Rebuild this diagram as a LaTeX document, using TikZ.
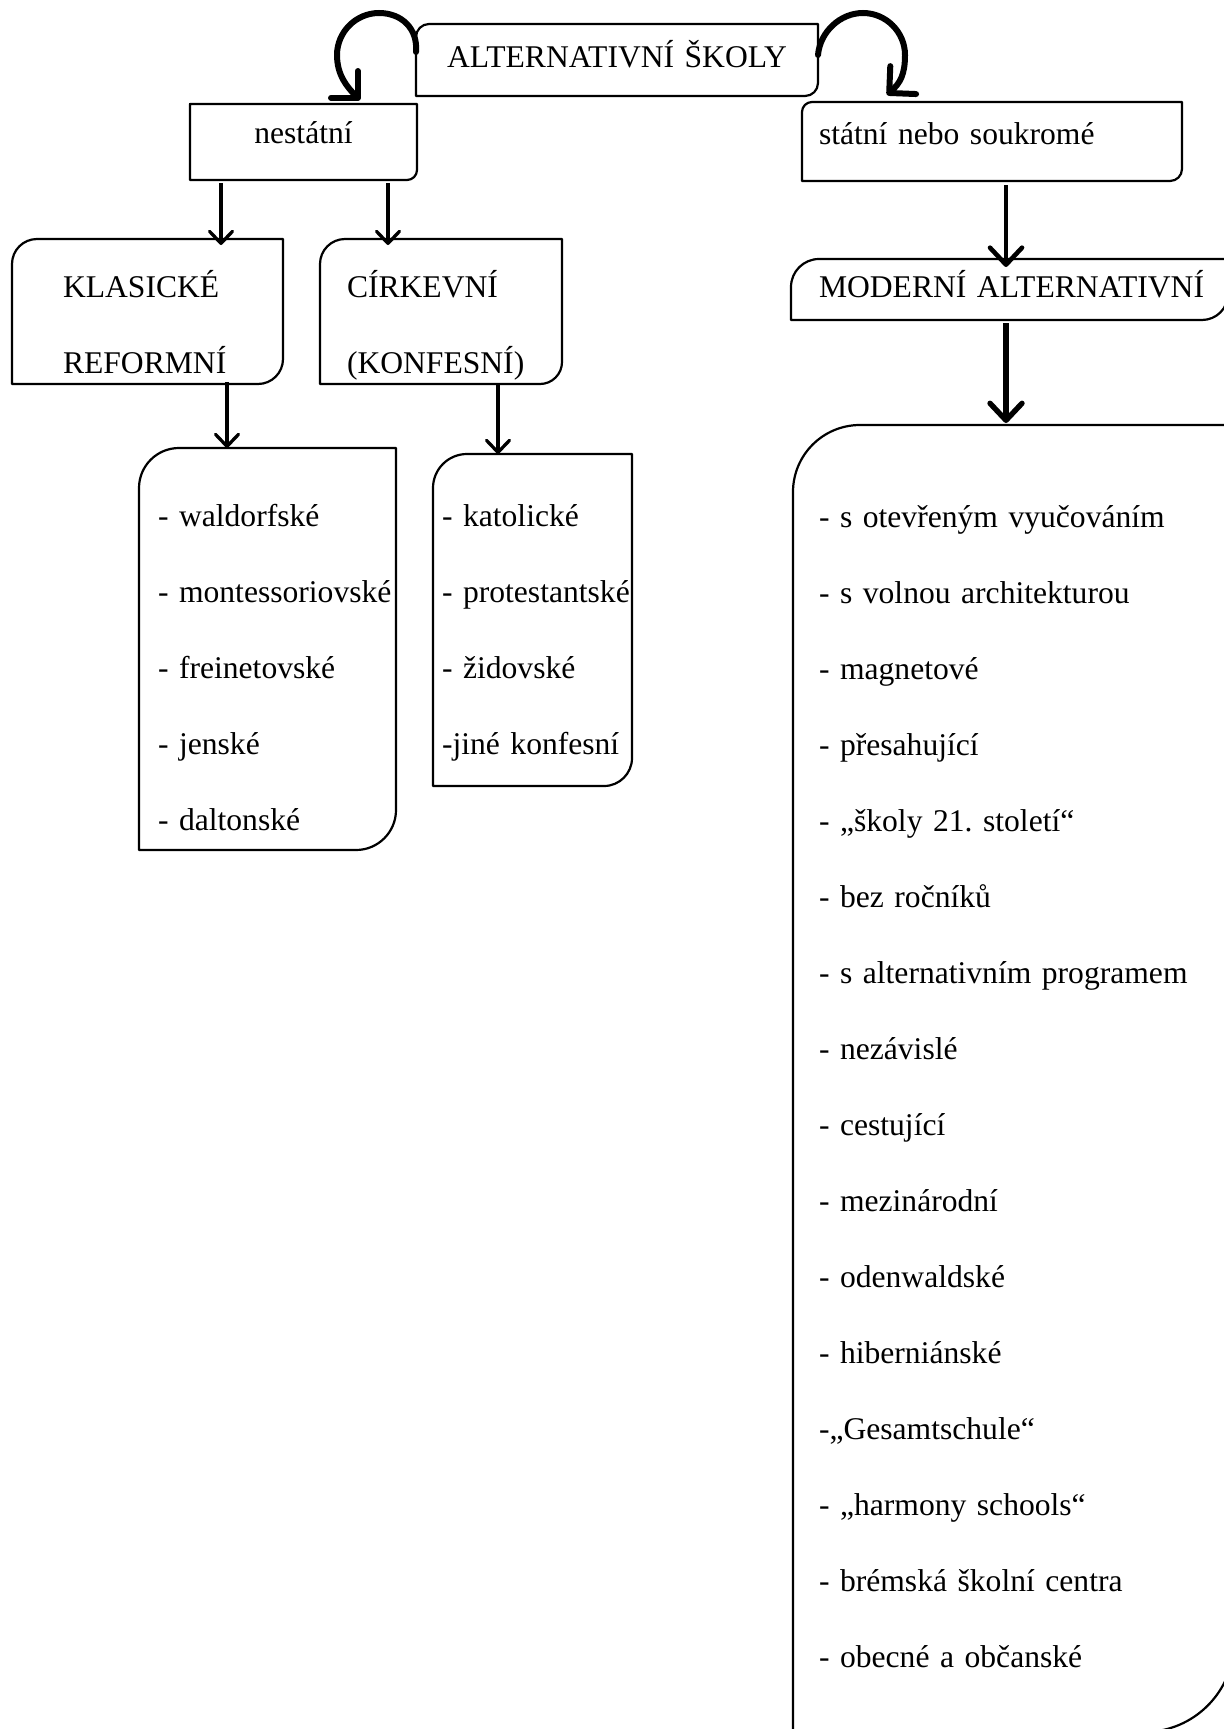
\documentclass[tikz,border=0pt]{standalone}
\usepackage{fontspec}
\setmainfont{Liberation Serif}
\usetikzlibrary{arrows.meta,calc}

\newcommand{\schoolfont}{\fontsize{15.8pt}{38pt}\selectfont\frenchspacing\hyphenpenalty=10000\relax}
% outline of a box node: round top left (#2) and bottom right (#3) corner
\newcommand{\schoolframe}[3]{%
  \draw[boxline] (#1.south west) -- ([yshift=-#2]#1.north west)
    arc[start angle=180, end angle=90, radius=#2] -- (#1.north east)
    -- ([yshift=#3]#1.south east)
    arc[start angle=0, end angle=-90, radius=#3] -- cycle;}

\tikzset{
  schoolbox/.style={rectangle, inner sep=0pt, outer sep=0pt, anchor=north west,
    align=left, font=\schoolfont},
  leftpad/.style={execute at begin node={\leftskip=#1\rightskip=-30pt plus 1fil\relax}},
  boxline/.style={line width=1.1pt, line join=round},
  toarrow/.style={line width=1.65pt, -{Straight Barb[length=6pt, width=11.5pt, round]}},
  bigarrow/.style={line width=2.5pt, -{Straight Barb[length=8.5pt, width=16pt, round]}},
  bendarrow/.style={line width=3pt, line cap=round, -{Straight Barb[length=9.5pt, width=19pt, round]}}
}

\begin{document}
\begin{tikzpicture}[x=0.5pt, y=-0.5pt]
  % page in pixels of the original sheet, y pointing down
  \useasboundingbox (0,0) rectangle (1224,1729);
  \clip (0,0) rectangle (1224,1729);

  % Top level
  \node[schoolbox, align=center, text width=201pt, text height=21.5pt, text depth=14.5pt]
    (alt) at (416,24) {ALTERNATIVNÍ ŠKOLY};
  \node[schoolbox, align=center, text width=113.5pt, text height=19.5pt, text depth=18.5pt]
    (nonstate) at (190,104) {nestátní};
  \node[schoolbox, leftpad=8.5pt, text width=190pt, text height=21pt, text depth=18.5pt]
    (state) at (802,102) {státní nebo soukromé};

  % Second level
  \node[schoolbox, leftpad=25.5pt, text width=135.5pt, text height=29pt, text depth=43.5pt]
    (classic) at (12,239) {KLASICKÉ\\REFORMNÍ};
  \node[schoolbox, leftpad=13.5pt, text width=121pt, text height=29pt, text depth=43.5pt]
    (church) at (320,239) {CÍRKEVNÍ\\(KONFESNÍ)};
  \node[schoolbox, leftpad=14pt, text width=218.5pt, text height=19pt, text depth=11.5pt]
    (modern) at (791,259) {MODERNÍ ALTERNATIVNÍ};

  % Lists
  \node[schoolbox, leftpad=9.5pt, text width=128.5pt, text height=39pt, text depth=162pt]
    (classiclist) at (139,448)
    {- waldorfské\\- montessoriovské\\- freinetovské\\- jenské\\- daltonské};
  \node[schoolbox, leftpad=4.5pt, text width=99.5pt, text height=36pt, text depth=130pt]
    (churchlist) at (433,454)
    {- katolické\\- protestantské\\- židovské\\-jiné konfesní};
  \node[schoolbox, leftpad=13pt, text width=220.5pt, text height=51pt, text depth=602.5pt]
    (modernlist) at (793,425)
    {- s otevřeným vyučováním\\- s volnou architekturou\\- magnetové\\- přesahující\\
     - „školy 21. století“\\- bez ročníků\\- s alternativním programem\\- nezávislé\\
     - cestující\\- mezinárodní\\- odenwaldské\\- hiberniánské\\-„Gesamtschule“\\
     - „harmony schools“\\- brémská školní centra\\- obecné a občanské};

  % Box outlines
  \schoolframe{alt}{6.5pt}{6.5pt}
  \schoolframe{nonstate}{0.01pt}{5pt}
  \schoolframe{state}{5pt}{6pt}
  \schoolframe{classic}{12.5pt}{12.5pt}
  \schoolframe{church}{12.5pt}{11pt}
  \schoolframe{modern}{14pt}{13pt}
  \schoolframe{classiclist}{20pt}{20pt}
  \schoolframe{churchlist}{17pt}{14pt}
  \schoolframe{modernlist}{33.5pt}{45pt}

  % Curved arrows from the title
  \draw[bendarrow] ($(alt.west)+(0,-8)$) .. controls (418,29) and (402,13) .. (379,13)
    .. controls (356,13) and (337,32) .. (337,55)
    .. controls (337,75) and (347,87) .. ($(nonstate.north -| 360,0)+(0,-4)$);
  \draw[bendarrow] ($(alt.east)+(0,-5)$) .. controls (820,32) and (840,13) .. (863,13)
    .. controls (886,13) and (905,32) .. (905,55)
    .. controls (905,75) and (900,83) .. ($(state.north -| 887,0)+(0,-7)$);

  % Straight arrows
  \draw[toarrow, shorten <=1.5pt, shorten >=-3pt] (nonstate.south -| 221,0) -- (classic.north -| 221,0);
  \draw[toarrow, shorten <=1.5pt, shorten >=-3pt] (nonstate.south -| 388,0) -- (church.north -| 388,0);
  \draw[toarrow, shorten <=-1pt] (classic.south -| 227,0) -- (classiclist.north -| 227,0);
  \draw[toarrow] (church.south -| 498,0) -- (churchlist.north -| 498,0);
  \draw[bigarrow, line width=2.3pt, shorten <=2pt, shorten >=-4pt] (state.south -| 1006,0) -- (modern.north -| 1006,0);
  \draw[bigarrow, line width=2.7pt, shorten <=1.5pt, shorten >=1pt] (modern.south -| 1006,0) -- (modernlist.north -| 1006,0);
\end{tikzpicture}
\end{document}
